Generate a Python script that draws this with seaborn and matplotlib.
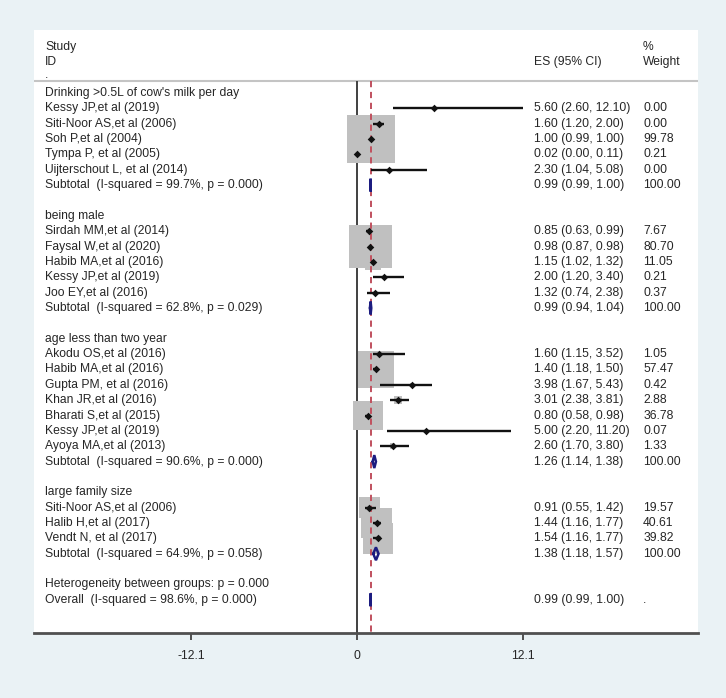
import numpy as np
import pandas as pd
import matplotlib
matplotlib.use("Agg")
import matplotlib.pyplot as plt
import seaborn as sns

# subgroup headings
group_names = ["Drinking >0.5L of cow's milk per day", "being male",
               "age less than two year", "large family size"]

milk_study = ["Kessy JP,et al (2019)", "Siti-Noor AS,et al (2006)", "Soh P,et al (2004)",
              "Tympa P, et al (2005)", "Uijterschout L, et al (2014)"]
milk_es = [5.60, 1.60, 1.00, 0.02, 2.30]
milk_lci = [2.60, 1.20, 0.99, 0.00, 1.04]
milk_uci = [12.10, 2.00, 1.00, 0.11, 5.08]
milk_wt = [0.00, 0.00, 99.78, 0.21, 0.00]

male_study = ["Sirdah MM,et al (2014)", "Faysal W,et al (2020)", "Habib MA,et al (2016)",
              "Kessy JP,et al (2019)", "Joo EY,et al (2016)"]
male_es = [0.85, 0.98, 1.15, 2.00, 1.32]
male_lci = [0.63, 0.87, 1.02, 1.20, 0.74]
male_uci = [0.99, 0.98, 1.32, 3.40, 2.38]
male_wt = [7.67, 80.70, 11.05, 0.21, 0.37]

age_study = ["Akodu OS,et al (2016)", "Habib MA,et al (2016)", "Gupta PM, et al (2016)",
             "Khan JR,et al (2016)", "Bharati S,et al (2015)", "Kessy JP,et al (2019)",
             "Ayoya MA,et al (2013)"]
age_es = [1.60, 1.40, 3.98, 3.01, 0.80, 5.00, 2.60]
age_lci = [1.15, 1.18, 1.67, 2.38, 0.58, 2.20, 1.70]
age_uci = [3.52, 1.50, 5.43, 3.81, 0.98, 11.20, 3.80]
age_wt = [1.05, 57.47, 0.42, 2.88, 36.78, 0.07, 1.33]

family_study = ["Siti-Noor AS,et al (2006)", "Halib H,et al (2017)", "Vendt N, et al (2017)"]
family_es = [0.91, 1.44, 1.54]
family_lci = [0.55, 1.16, 1.16]
family_uci = [1.42, 1.77, 1.77]
family_wt = [19.57, 40.61, 39.82]

sub_i2 = [99.7, 62.8, 90.6, 64.9]
sub_p = [0.000, 0.029, 0.000, 0.058]
sub_es = [0.99, 0.99, 1.26, 1.38]
sub_lci = [0.99, 0.94, 1.14, 1.18]
sub_uci = [1.00, 1.04, 1.38, 1.57]

het_between_p = 0.000
overall_i2 = 98.6
overall_p = 0.000
overall_es = 0.99
overall_lci = 0.99
overall_uci = 1.00

xticks = [-12.1, 0, 12.1]

groups = [
    (milk_study, milk_es, milk_lci, milk_uci, milk_wt),
    (male_study, male_es, male_lci, male_uci, male_wt),
    (age_study, age_es, age_lci, age_uci, age_wt),
    (family_study, family_es, family_lci, family_uci, family_wt),
]

# lay out rows
study_rows = []
label_rows = []   # (row, text)
sub_rows = []
r = 0
for gi, (st, es, lo, hi, wt) in enumerate(groups):
    label_rows.append((r, group_names[gi]))
    for k in range(len(st)):
        r += 1
        label_rows.append((r, st[k]))
        study_rows.append(dict(row=r, es=es[k], lci=lo[k], uci=hi[k], wt=wt[k]))
    r += 1
    label_rows.append((r, "Subtotal  (I-squared = %.1f%%, p = %.3f)" % (sub_i2[gi], sub_p[gi])))
    sub_rows.append(dict(row=r, es=sub_es[gi], lci=sub_lci[gi], uci=sub_uci[gi], wt=100.0))
    r += 2
label_rows.append((r, "Heterogeneity between groups: p = %.3f" % het_between_p))
r += 1
overall_row = r
label_rows.append((r, "Overall  (I-squared = %.1f%%, p = %.3f)" % (overall_i2, overall_p)))

df = pd.DataFrame(study_rows)
sub = pd.DataFrame(sub_rows)

sns.set_style("white")
plt.rcParams['font.family'] = ['Liberation Sans', 'DejaVu Sans']
fs = 8.7

fig = plt.figure(figsize=(7.26, 6.98), dpi=100)
fig.patch.set_facecolor("#eaf2f5")
ax = fig.add_axes([34 / 726, 1 - 633 / 698, 664 / 726, 603 / 698])
ax.set_facecolor("white")

xl, xr = -23.54, 24.85
ytop, ybot = -4.10, 35.16
ax.set_xlim(xl, xr)
ax.set_ylim(ybot, ytop)
sep = -0.78

# reference lines
ax.axhline(sep, color="#c4c4c4", lw=1.5, zorder=1)
ax.vlines(0, sep, ybot, color="#404040", lw=1.4, zorder=2)

# weight boxes
sns.scatterplot(data=df, x="es", y="row", size="wt", sizes=(0, 1197), size_norm=(0, 100),
                marker="s", color="#c0c0c0", linewidth=0, legend=False, ax=ax, zorder=3)
ax.vlines(overall_es, sep, ybot, color="#c0505e", lw=1.4, linestyles=(0, (3.2, 2.4)), zorder=4)
# confidence intervals
ax.hlines(df["row"], df["lci"], df["uci"], color="#111111", lw=1.7, zorder=5)
sns.scatterplot(data=df, x="es", y="row", marker="D", s=15, color="#111111",
                linewidth=0, legend=False, ax=ax, zorder=6)

# pooled diamonds
h = 0.42
pooled = pd.concat([sub, pd.DataFrame([dict(row=overall_row, es=overall_es,
                                             lci=overall_lci, uci=overall_uci, wt=np.nan)])])
for _, p in pooled.iterrows():
    xs = [p.lci, p.es, p.uci, p.es, p.lci]
    ys = [p.row, p.row - h, p.row, p.row + h, p.row]
    ax.plot(xs, ys, color="#1c1c80", lw=1.8, solid_joinstyle="miter", zorder=7)

# text columns
x_lab, x_es, x_wt = -22.74, 12.9, 20.85
ax.text(x_lab, -3, "Study", fontsize=fs, va="center")
ax.text(x_lab, -2, "ID", fontsize=fs, va="center")
ax.text(x_lab, -1.15, ".", fontsize=fs, va="center")
ax.text(x_es, -2, "ES (95% CI)", fontsize=fs, va="center")
ax.text(x_wt, -3, "%", fontsize=fs, va="center")
ax.text(x_wt, -2, "Weight", fontsize=fs, va="center")
for row, txt in label_rows:
    ax.text(x_lab, row, txt, fontsize=fs, va="center")
for _, p in pd.concat([df, sub]).iterrows():
    ax.text(x_es, p.row, "%.2f (%.2f, %.2f)" % (p.es, p.lci, p.uci), fontsize=fs, va="center")
    ax.text(x_wt, p.row, "%.2f" % p.wt, fontsize=fs, va="center")
ax.text(x_es, overall_row, "%.2f (%.2f, %.2f)" % (overall_es, overall_lci, overall_uci),
        fontsize=fs, va="center")
ax.text(x_wt, overall_row, ".", fontsize=fs, va="center")

# axes
for s in ["top", "left", "right"]:
    ax.spines[s].set_visible(False)
ax.spines["bottom"].set_color("#505050")
ax.spines["bottom"].set_linewidth(2)
ax.set_yticks([])
ax.set_xticks(xticks)
ax.set_xticklabels(["%g" % t for t in xticks])
ax.tick_params(axis="x", direction="out", length=5, width=1.4, color="#505050",
               labelsize=fs, pad=7, bottom=True)
ax.set_xlabel("")
ax.set_ylabel("")

fig.savefig("out.png", dpi=100, facecolor=fig.get_facecolor())
